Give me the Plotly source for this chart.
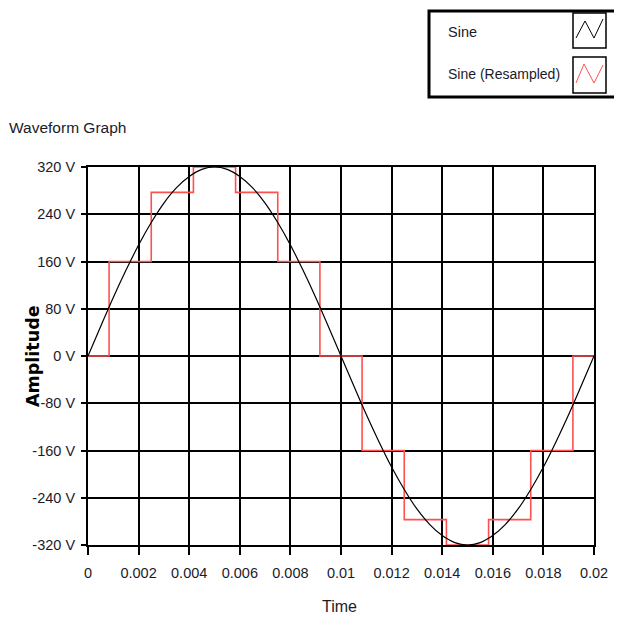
import plotly.graph_objects as go

# ---------------- data ----------------
series_names = ["Sine", "Sine (Resampled)"]

# continuous sine (read every 0.0005 s)
sine_t = [i * 0.0005 for i in range(41)]
sine_v = [0, 50, 99, 145, 188, 226, 259, 285, 304, 316, 320,
          316, 304, 285, 259, 226, 188, 145, 99, 50, 0,
          -50, -99, -145, -188, -226, -259, -285, -304, -316, -320,
          -316, -304, -285, -259, -226, -188, -145, -99, -50, 0]

# resampled sine (held samples)
res_t = [0, 0.001667, 0.003333, 0.005, 0.006667, 0.008333, 0.01,
         0.011667, 0.013333, 0.015, 0.016667, 0.018333, 0.02]
res_v = [0, 160, 277, 320, 277, 160, 0, -160, -277, -320, -277, -160, 0]

x_ticks = [0, 0.002, 0.004, 0.006, 0.008, 0.01, 0.012, 0.014, 0.016, 0.018, 0.02]
x_tick_labels = ["0", "0.002", "0.004", "0.006", "0.008", "0.01", "0.012",
                 "0.014", "0.016", "0.018", "0.02"]
y_ticks = [-320, -240, -160, -80, 0, 80, 160, 240, 320]
y_tick_labels = ["-320 V", "-240 V", "-160 V", "-80 V", "0 V", "80 V",
                 "160 V", "240 V", "320 V"]

title_text = "Waveform Graph"
x_title = "Time"
y_title = "Amplitude"

# ---------------- styling ----------------
OFF = 8                      # page body margin
W, H = 622 - OFF, 621 - OFF
PL, PR, PT, PB = 88, 594, 167, 545   # plot area in page pixels
L, T = PL - OFF, PT - OFF
R, B = W - (PR - OFF), H - (PB - OFF)
PW, PH = PR - PL, PB - PT
FONT = "Liberation Sans, Arial, sans-serif"
TXT = "#1b1b2b"
RED = "#ff5050"


def px(X):
    return (X - PL) / PW


def py(Y):
    return (PB - Y) / PH


fig = go.Figure()
fig.add_trace(go.Scatter(x=res_t, y=res_v, mode="lines", name=series_names[1],
                         line=dict(color=RED, width=1.6, shape="hvh"),
                         showlegend=False))
fig.add_trace(go.Scatter(x=sine_t, y=sine_v, mode="lines", name=series_names[0],
                         line=dict(color="black", width=1.2, shape="spline"),
                         showlegend=False))

axis_common = dict(showgrid=True, gridcolor="black", gridwidth=1.7,
                   showline=True, linecolor="black", linewidth=2, mirror=True,
                   ticks="outside", tickcolor="black", tickwidth=1.5,
                   zeroline=False, tickfont=dict(family=FONT, size=14.5, color=TXT))

fig.update_xaxes(range=[0, 0.02], tickmode="array", tickvals=x_ticks,
                 ticktext=x_tick_labels, ticklen=8, ticklabelstandoff=6, **axis_common)
fig.update_yaxes(range=[-320, 320], tickmode="array", tickvals=y_ticks,
                 ticktext=y_tick_labels, ticklen=5, ticklabelstandoff=3, **axis_common)

shapes = []
annotations = []

# legend box
shapes.append(dict(type="rect", xref="paper", yref="paper",
                   x0=px(429), x1=px(620), y0=py(97), y1=py(11),
                   line=dict(color="black", width=3), fillcolor="white"))
# icon boxes
for y0, y1 in [(13, 48), (57, 93)]:
    shapes.append(dict(type="rect", xref="paper", yref="paper",
                       x0=px(573), x1=px(606), y0=py(y1), y1=py(y0),
                       line=dict(color="black", width=1.5), fillcolor="white"))


def zig(pts):
    s = ""
    for i, (X, Y) in enumerate(pts):
        s += ("M" if i == 0 else "L") + f" {px(X)} {py(Y)} "
    return s


shapes.append(dict(type="path", xref="paper", yref="paper",
                   path=zig([(576, 38), (585, 21), (594, 38), (603, 19)]),
                   line=dict(color="black", width=1)))
shapes.append(dict(type="path", xref="paper", yref="paper",
                   path=zig([(576, 83), (584, 64), (594, 83), (603, 65)]),
                   line=dict(color=RED, width=1)))

annotations.append(dict(text=series_names[0], xref="paper", yref="paper",
                        x=px(446), y=py(32), xanchor="left", yanchor="middle",
                        showarrow=False, font=dict(family=FONT, size=14.5, color=TXT)))
annotations.append(dict(text=series_names[1], xref="paper", yref="paper",
                        x=px(446), y=py(74), xanchor="left", yanchor="middle",
                        showarrow=False, font=dict(family=FONT, size=14, color=TXT)))

# title
annotations.append(dict(text=title_text, xref="paper", yref="paper",
                        x=px(7), y=py(128), xanchor="left", yanchor="middle",
                        showarrow=False, font=dict(family=FONT, size=15.5, color=TXT)))
# axis titles
annotations.append(dict(text=x_title, xref="paper", yref="paper",
                        x=px(339), y=py(606), xanchor="center", yanchor="middle",
                        showarrow=False, font=dict(family=FONT, size=16, color=TXT)))
annotations.append(dict(text="<b>" + y_title + "</b>", xref="paper", yref="paper",
                        x=px(33), y=py(356), xanchor="center", yanchor="middle",
                        textangle=-90, showarrow=False,
                        font=dict(family="DejaVu Sans, sans-serif", size=17.5, color="black")))

fig.update_layout(width=W, height=H, autosize=False,
                  margin=dict(l=L, r=R, t=T, b=B, pad=0),
                  paper_bgcolor="white", plot_bgcolor="white",
                  shapes=shapes, annotations=annotations, showlegend=False)

fig.write_html("out.html")
